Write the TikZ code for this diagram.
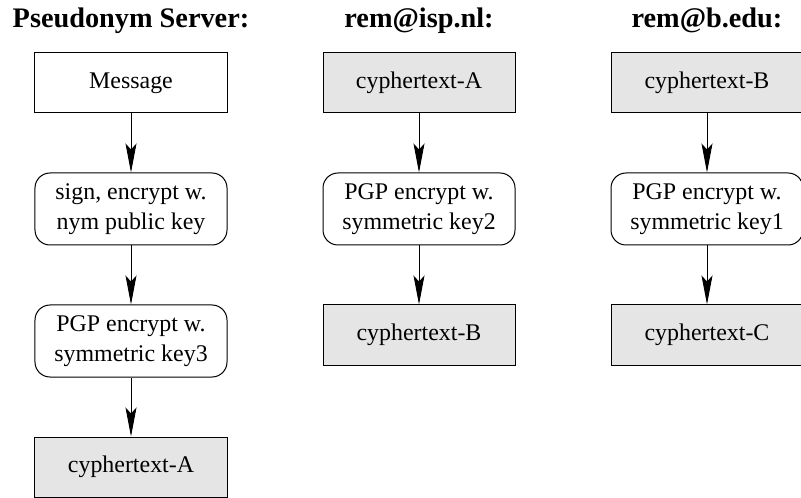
\documentclass[tikz,border=0pt]{standalone}
\usepackage{fontspec}
\setmainfont{Liberation Serif}
\usetikzlibrary{arrows.meta}
\definecolor{boxgray}{gray}{0.9}
\tikzset{
  every node/.style={font=\fontsize{24}{30}\selectfont},
  title/.style={font=\fontsize{28.4}{34}\selectfont\bfseries, anchor=base},
  rectbox/.style={draw, line width=1bp, minimum width=192bp, minimum height=60bp, inner sep=0pt},
  databox/.style={rectbox, fill=boxgray},
  procbox/.style={draw, line width=1bp, rounded corners=15bp, minimum width=192bp, minimum height=72bp, inner sep=0pt, align=center},
  flow/.style={line width=1bp, -{Stealth[length=29bp, width=11bp, inset=6bp]}}
}
\begin{document}
\begin{tikzpicture}[x=1bp, y=-1bp]
\useasboundingbox (0,0) rectangle (801,498);
% titles
\node[title] (t1) at (131,28) {Pseudonym Server:};
\node[title] (t2) at (419,28) {rem@isp.nl:};
\node[title] (t3) at (707,28) {rem@b.edu:};
% left column
\node[rectbox] (msg) at (131,83) {Message};
\node[procbox] (sign) at (131,209) {sign, encrypt w.\\nym public key};
\node[procbox] (k3) at (131,341) {PGP encrypt w.\\symmetric key3};
\node[databox] (ca1) at (131,467) {cyphertext-A};
% middle column
\node[databox] (ca2) at (419,83) {cyphertext-A};
\node[procbox] (k2) at (419,209) {PGP encrypt w.\\symmetric key2};
\node[databox] (cb1) at (419,335) {cyphertext-B};
% right column
\node[databox] (cb2) at (707,83) {cyphertext-B};
\node[procbox] (k1) at (707,209) {PGP encrypt w.\\symmetric key1};
\node[databox] (cc) at (707,335) {cyphertext-C};
% arrows
\draw[flow] (msg) -- (sign);
\draw[flow] (sign) -- (k3);
\draw[flow] (k3) -- (ca1);
\draw[flow] (ca2) -- (k2);
\draw[flow] (k2) -- (cb1);
\draw[flow] (cb2) -- (k1);
\draw[flow] (k1) -- (cc);
\end{tikzpicture}
\end{document}
